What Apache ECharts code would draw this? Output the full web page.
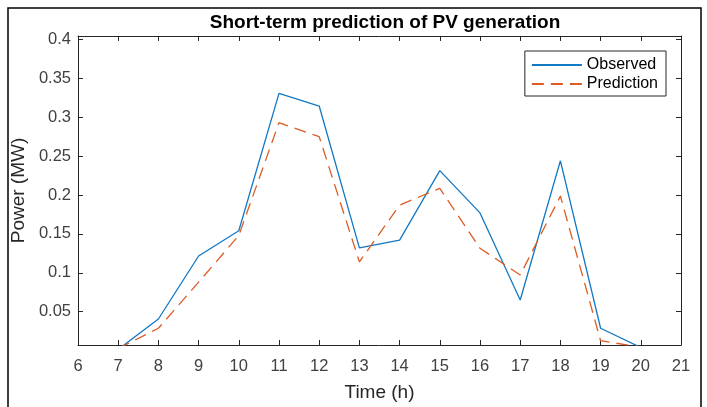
<!DOCTYPE html>
<html>
<head>
<meta charset="utf-8">
<script src="https://cdn.jsdelivr.net/npm/echarts@6/dist/echarts.min.js"></script>
<style>
  html, body { margin: 0; padding: 0; background: #fff; }
  #chart { width: 707px; height: 407px; }
</style>
</head>
<body>
<div id="chart"></div>
<script>
// hours of the day
var hours = [7, 8, 9, 10, 11, 12, 13, 14, 15, 16, 17, 18, 19, 20];
// measured PV power (MW)
var observed = [0.0015, 0.0406, 0.1216, 0.154, 0.3307, 0.3144, 0.132, 0.142, 0.2313, 0.177, 0.065, 0.244, 0.0287, 0.004];
// predicted PV power (MW)
var prediction = [0.0027, 0.0287, 0.088, 0.148, 0.293, 0.275, 0.114, 0.187, 0.2086, 0.1315, 0.0972, 0.1987, 0.0127, 0.0044];
var yTicks = [0.05, 0.1, 0.15, 0.2, 0.25, 0.3, 0.35, 0.4];

function pairs(xs, ys) {
    return xs.map(function (x, i) { return [x, ys[i]]; });
}

var axisColor = '#262626';
var fontFam = '"Liberation Sans", Arial, sans-serif';

var option = {
    animation: false,
    backgroundColor: '#fff',
    title: {
        text: 'Short-term prediction of PV generation',
        left: 380,
        top: 8,
        textAlign: 'center',
        textStyle: { fontFamily: fontFam, fontSize: 19, fontWeight: 'bold', color: '#000' }
    },
    legend: {
        orient: 'vertical',
        right: 41,
        top: 51,
        itemWidth: 50,
        itemHeight: 14,
        itemGap: 3,
        padding: [6, 8, 4, 6],
        borderColor: axisColor,
        borderWidth: 1,
        backgroundColor: '#fff',
        itemStyle: { opacity: 0 },
        textStyle: { fontFamily: fontFam, fontSize: 16, color: '#000' },
        data: ['Observed', 'Prediction']
    },
    grid: { left: 78, right: 26, top: 36, bottom: 62, containLabel: false },
    xAxis: [{
        type: 'value',
        min: 6, max: 21, interval: 1,
        name: 'Time (h)',
        nameLocation: 'middle',
        nameGap: 38,
        nameTextStyle: { fontFamily: fontFam, fontSize: 19, color: '#262626' },
        axisLine: { lineStyle: { color: axisColor, width: 1 } },
        axisTick: { inside: true, length: 5, lineStyle: { color: axisColor } },
        axisLabel: { fontFamily: fontFam, fontSize: 16.5, color: '#404040', margin: 13 },
        splitLine: { show: false }
    }, {
        type: 'value',
        position: 'top',
        min: 6, max: 21, interval: 1,
        axisLine: { lineStyle: { color: axisColor, width: 1 } },
        axisTick: { inside: true, length: 5, lineStyle: { color: axisColor } },
        axisLabel: { show: false },
        splitLine: { show: false }
    }],
    yAxis: [{
        type: 'value',
        min: 0.0072, max: 0.4044,
        name: 'Power (MW)',
        nameLocation: 'middle',
        nameGap: 50,
        nameTextStyle: { fontFamily: fontFam, fontSize: 19, color: '#262626' },
        axisLine: { show: true, lineStyle: { color: axisColor, width: 1 } },
        axisTick: { show: true, inside: true, length: 5, customValues: yTicks, lineStyle: { color: axisColor } },
        axisLabel: { fontFamily: fontFam, fontSize: 16.5, color: '#404040', margin: 7, customValues: yTicks },
        splitLine: { show: false }
    }, {
        type: 'value',
        position: 'right',
        min: 0.0072, max: 0.4044,
        axisLine: { show: true, lineStyle: { color: axisColor, width: 1 } },
        axisTick: { show: true, inside: true, length: 5, customValues: yTicks, lineStyle: { color: axisColor } },
        axisLabel: { show: false },
        splitLine: { show: false }
    }],
    series: [{
        name: 'Observed',
        type: 'line',
        data: pairs(hours, observed),
        symbol: 'none',
        clip: true,
        color: '#0072BD',
        lineStyle: { color: '#1178c4', width: 1.3 }
    }, {
        name: 'Prediction',
        type: 'line',
        data: pairs(hours, prediction),
        symbol: 'none',
        clip: true,
        color: '#D95319',
        lineStyle: { color: '#dc5c26', width: 1.3, type: [12, 7] }
    }],
    graphic: [{
        type: 'rect',
        shape: { x: 8, y: 8, width: 693, height: 430 },
        style: { fill: 'none', stroke: '#000', lineWidth: 1.5 },
        silent: true
    }]
};

var myChart = echarts.init(document.getElementById('chart'));
myChart.setOption(option);
</script>
</body>
</html>
